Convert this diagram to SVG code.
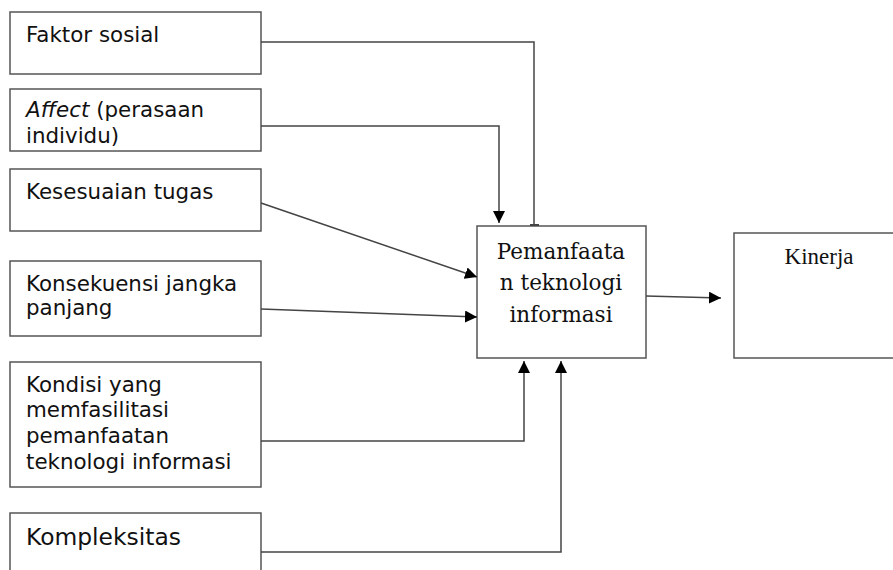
<svg xmlns="http://www.w3.org/2000/svg" width="893" height="570" viewBox="0 0 893 570">
<style>
.box{fill:#fff;stroke:#555;stroke-width:1.5}
.lbl{font-family:"DejaVu Sans",sans-serif;font-size:21.4px;fill:#111}
.ctr{font-family:"DejaVu Serif",serif;font-size:21.5px;fill:#111;text-anchor:middle}
.kin{font-family:"Liberation Serif","Times New Roman",serif;font-size:23px;fill:#111;text-anchor:middle}
.con{fill:none;stroke:#444;stroke-width:1.5}
</style>
<defs>
<marker id="ah" markerUnits="userSpaceOnUse" markerWidth="12" markerHeight="12" refX="12" refY="6" orient="auto">
<path d="M0,0 L12,6 L0,12 z" fill="#000"/>
</marker>
</defs>
<rect width="893" height="570" fill="#fff"/>
<g id="faktor-sosial">
<rect class="box" x="10" y="12" width="251" height="62"/>
<text class="lbl" x="26" y="42">Faktor sosial</text>
</g>
<g id="affect">
<rect class="box" x="10" y="89" width="251" height="62"/>
<text class="lbl" x="26" y="117"><tspan font-style="italic">Affect</tspan> (perasaan</text>
<text class="lbl" x="26" y="143">individu)</text>
</g>
<g id="kesesuaian-tugas">
<rect class="box" x="10" y="169" width="251" height="62"/>
<text class="lbl" x="26" y="199">Kesesuaian tugas</text>
</g>
<g id="konsekuensi">
<rect class="box" x="10" y="261" width="251" height="75"/>
<text class="lbl" x="26" y="291">Konsekuensi jangka</text>
<text class="lbl" x="26" y="315">panjang</text>
</g>
<g id="kondisi">
<rect class="box" x="10" y="362" width="251" height="125"/>
<text class="lbl" x="26" y="392">Kondisi yang</text>
<text class="lbl" x="26" y="417">memfasilitasi</text>
<text class="lbl" x="26" y="443">pemanfaatan</text>
<text class="lbl" x="26" y="469">teknologi informasi</text>
</g>
<g id="kompleksitas">
<rect class="box" x="10" y="513" width="251" height="80"/>
<text class="lbl" x="26" y="545" style="font-size:23.4px">Kompleksitas</text>
</g>
<g id="pemanfaatan">
<rect class="box" x="477" y="226" width="169" height="132"/>
<text class="ctr" x="561" y="259">Pemanfaata</text>
<text class="ctr" x="561" y="290">n teknologi</text>
<text class="ctr" x="561" y="322">informasi</text>
</g>
<g id="kinerja">
<rect class="box" x="734" y="233" width="180" height="125"/>
<text class="kin" x="819" y="264">Kinerja</text>
</g>
<g id="connectors">
<polyline class="con" points="261,42 534,42 534,225"/>
<line x1="530" y1="225" x2="539" y2="225" stroke="#444" stroke-width="2"/>
<polyline class="con" points="261,126 499,126 499,223" marker-end="url(#ah)"/>
<line class="con" x1="261" y1="203" x2="477" y2="277" marker-end="url(#ah)"/>
<line class="con" x1="261" y1="309" x2="477" y2="317" marker-end="url(#ah)"/>
<polyline class="con" points="261,441 524,441 524,361" marker-end="url(#ah)"/>
<polyline class="con" points="261,552 561,552 561,361" marker-end="url(#ah)"/>
<line class="con" x1="646" y1="296" x2="721" y2="298" marker-end="url(#ah)"/>
</g>
</svg>
